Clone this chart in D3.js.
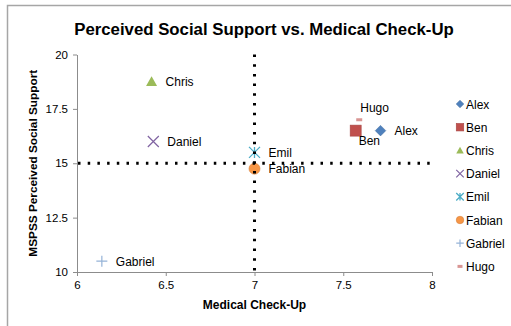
<!DOCTYPE html>
<html>
<head>
<meta charset="utf-8">
<script src="https://cdn.jsdelivr.net/npm/d3@7"></script>
<style>
  html, body { margin: 0; padding: 0; background: #fff; }
  svg { display: block; font-family: "Liberation Sans", Arial, Helvetica, sans-serif; }
</style>
</head>
<body>
<svg id="chart" width="511" height="326"></svg>
<script>
// Participants and their scores
const names = ["Alex", "Ben", "Chris", "Daniel", "Emil", "Fabian", "Gabriel", "Hugo"];
const checkUp = [7.71, 7.57, 6.42, 6.43, 7.0, 7.0, 6.14, 7.59];
const support = [16.5, 16.5, 18.75, 16.0, 15.5, 14.75, 10.5, 17.0];
const xTicks = [6, 6.5, 7, 7.5, 8];
const yTicks = [10, 12.5, 15, 17.5, 20];
const xMid = 7;     // vertical reference line
const yMid = 15;    // horizontal reference line

const colors = {
  Alex: "#4f81bd", Ben: "#c0504d", Chris: "#9bbb59", Daniel: "#8064a2",
  Emil: "#4bacc6", Fabian: "#f79646", Gabriel: "#95b3d7", Hugo: "#d99694"
};
const shapes = {
  Alex: "diamond", Ben: "square", Chris: "triangle", Daniel: "x",
  Emil: "asterisk", Fabian: "circle", Gabriel: "plus", Hugo: "dash"
};
// where each point's name sits relative to its marker
const labelPlace = { Ben: "belowRight", Hugo: "aboveRight" };

const svg = d3.select("#chart");

// outer frame
svg.append("path")
  .attr("d", "M7.5,326 V5.5 H511")
  .attr("fill", "none").attr("stroke", "#a6a6a6").attr("stroke-width", 1.5);

const x = d3.scaleLinear().domain([6, 8]).range([77, 432]);
const y = d3.scaleLinear().domain([10, 20]).range([272, 54.5]);

// title
svg.append("text")
  .attr("x", 264).attr("y", 35)
  .attr("text-anchor", "middle")
  .attr("font-size", 16.8).attr("font-weight", "bold").attr("fill", "#000")
  .text("Perceived Social Support vs. Medical Check-Up");

// axes
const xAxis = svg.append("g").attr("transform", `translate(0,${y(10)})`)
  .call(d3.axisBottom(x).tickValues(xTicks).tickFormat(d3.format("")).tickSizeInner(4).tickSizeOuter(0).tickPadding(5));
const yAxis = svg.append("g").attr("transform", `translate(${x(6)},0)`)
  .call(d3.axisLeft(y).tickValues(yTicks).tickFormat(d3.format("")).tickSizeInner(4).tickSizeOuter(0).tickPadding(5));
[xAxis, yAxis].forEach(g => {
  g.selectAll("path, line").attr("stroke", "#8c8c8c").attr("stroke-width", 1);
  g.selectAll("text").attr("font-size", 11.5).attr("fill", "#000")
    .attr("font-family", "\"Liberation Sans\", Arial, sans-serif");
});

// axis titles
svg.append("text")
  .attr("x", x(7)).attr("y", 309)
  .attr("text-anchor", "middle").attr("font-size", 12).attr("font-weight", "bold")
  .text("Medical Check-Up");
svg.append("text")
  .attr("transform", `translate(37,${y(15)}) rotate(-90)`)
  .attr("text-anchor", "middle").attr("font-size", 11.8).attr("font-weight", "bold")
  .text("MSPSS Perceived Social Support");

// marker drawing
function drawMarker(g, shape, color, s) {
  const h = s / 2;
  switch (shape) {
    case "diamond":
      g.append("path").attr("d", `M0,${-h} L${h},0 L0,${h} L${-h},0 Z`)
        .attr("fill", color).attr("stroke", d3.color(color).darker(0.4)).attr("stroke-width", 0.6);
      break;
    case "square":
      g.append("rect").attr("x", -h).attr("y", -h).attr("width", s).attr("height", s)
        .attr("fill", color).attr("stroke", d3.color(color).darker(0.4)).attr("stroke-width", 0.6);
      break;
    case "triangle":
      g.append("path").attr("d", `M0,${-h} L${h},${h * 0.8} L${-h},${h * 0.8} Z`)
        .attr("fill", color);
      break;
    case "circle":
      g.append("circle").attr("r", h).attr("fill", color)
        .attr("stroke", d3.color(color).darker(0.4)).attr("stroke-width", 0.6);
      break;
    case "x":
      g.append("path").attr("d", `M${-h},${-h} L${h},${h} M${-h},${h} L${h},${-h}`)
        .attr("stroke", color).attr("stroke-width", 1.2).attr("fill", "none");
      break;
    case "plus":
      g.append("path").attr("d", `M${-h},0 L${h},0 M0,${-h} L0,${h}`)
        .attr("stroke", color).attr("stroke-width", 1.2).attr("fill", "none");
      break;
    case "asterisk":
      g.append("path").attr("d", `M${-h},${-h} L${h},${h} M${-h},${h} L${h},${-h} M0,${-h} L0,${h}`)
        .attr("stroke", color).attr("stroke-width", 1.3).attr("fill", "none");
      break;
    case "dash":
      g.append("rect").attr("x", -h).attr("y", -1.5).attr("width", s).attr("height", 3)
        .attr("fill", color);
      break;
  }
}

const points = names.map((n, i) => ({ name: n, cx: checkUp[i], sy: support[i] }));

// points
const pts = svg.append("g");
points.forEach(p => {
  const g = pts.append("g").attr("transform", `translate(${x(p.cx)},${y(p.sy)})`);
  const size = p.name === "Hugo" ? 6 : (p.name === "Alex" ? 10.5 : 11);
  drawMarker(g, shapes[p.name], colors[p.name], size);
});

// reference lines drawn over the markers
const dotted = svg.append("g").attr("stroke", "#000").attr("stroke-width", 3)
  .attr("stroke-dasharray", "2.5 7.2");
dotted.append("line")
  .attr("x1", x(xMid)).attr("x2", x(xMid)).attr("y1", y(20)).attr("y2", y(10));
dotted.append("line")
  .attr("x1", x(6) + 1).attr("x2", x(8)).attr("y1", y(yMid)).attr("y2", y(yMid));

// point labels
const labels = svg.append("g").attr("font-size", 12).attr("fill", "#000");
points.forEach(p => {
  const px = x(p.cx), py = y(p.sy);
  const place = labelPlace[p.name] || "right";
  let lx = px + 14, ly = py + 4.5;
  if (place === "belowRight") { lx = px + 3; ly = py + 14; }
  if (place === "aboveRight") { lx = px + 1; ly = py - 8; }
  labels.append("text").attr("x", lx).attr("y", ly).text(p.name);
});

// legend
const legend = svg.append("g").attr("transform", "translate(460,104)");
names.forEach((n, i) => {
  const row = legend.append("g").attr("transform", `translate(0,${i * 23.2})`);
  const size = n === "Hugo" ? 5 : 7.5;
  drawMarker(row, shapes[n], colors[n], size);
  row.append("text").attr("x", 6).attr("y", 4.5).attr("font-size", 12).text(n);
});
</script>
</body>
</html>
